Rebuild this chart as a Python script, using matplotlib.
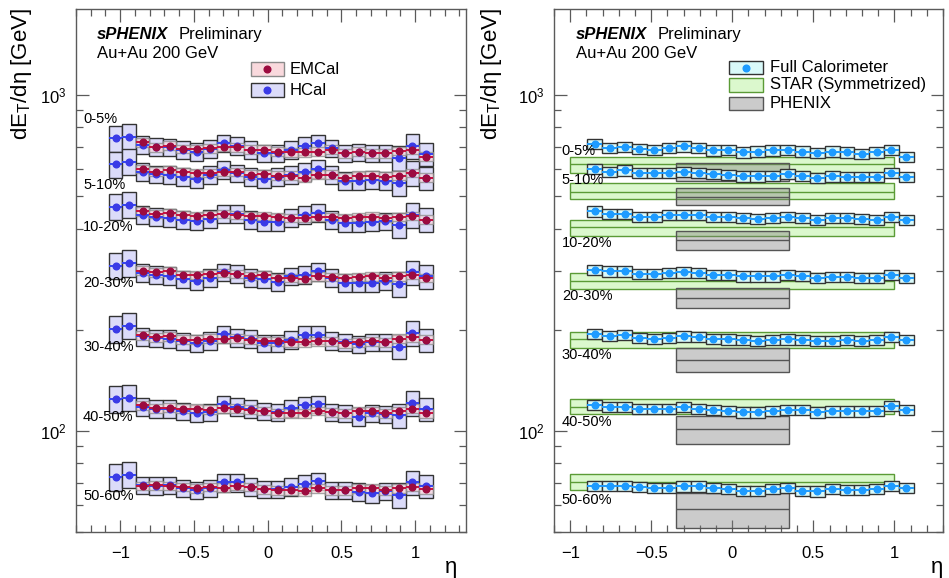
import numpy as np
import matplotlib
matplotlib.use("Agg")
import matplotlib.pyplot as plt
from matplotlib import ticker
from matplotlib.patches import Rectangle

plt.rcParams['font.family'] = ['Liberation Sans', 'DejaVu Sans']
plt.rcParams['mathtext.fontset'] = 'custom'
plt.rcParams['mathtext.rm'] = 'Liberation Sans'
plt.rcParams['mathtext.it'] = 'Liberation Sans:italic'
plt.rcParams['mathtext.bf'] = 'Liberation Sans:bold'

# ---------------- data ----------------
centralities = ['0-5%', '5-10%', '10-20%', '20-30%', '30-40%', '40-50%', '50-60%']

eta_hcal = [-1.031, -0.940, -0.848, -0.757, -0.665, -0.574, -0.482, -0.391,
            -0.299, -0.208, -0.116, -0.025, 0.067, 0.158, 0.250, 0.342,
            0.433, 0.525, 0.616, 0.708, 0.799, 0.891, 0.982, 1.074]
eta_emcal = [-0.848, -0.757, -0.665, -0.574, -0.482, -0.391, -0.299, -0.208,
             -0.116, -0.025, 0.067, 0.158, 0.250, 0.342, 0.433, 0.525,
             0.616, 0.708, 0.799, 0.891, 0.982, 1.074]
bin_width = 0.0915

hcal_0_5 = [743, 751, 710, 701, 697, 686, 678, 690, 718, 706, 686, 670,
            670, 686, 706, 718, 694, 670, 675, 670, 670, 648, 706, 667]
hcal_5_10 = [622, 633, 591, 581, 578, 571, 562, 578, 598, 585, 571, 562,
             571, 578, 591, 602, 578, 555, 555, 558, 555, 546, 585, 565]
hcal_10_20 = [465, 471, 439, 434, 430, 425, 420, 427, 442, 442, 425, 417,
              417, 430, 439, 446, 425, 415, 415, 417, 420, 410, 439, 425]
hcal_20_30 = [310, 316, 295, 291, 289, 283, 280, 285, 296, 293, 285, 283,
              278, 288, 291, 298, 285, 276, 276, 276, 280, 274, 296, 288]
hcal_30_40 = [201.2, 205.8, 190.9, 188.7, 187.9, 184.5, 182.4, 185.3, 194.0, 189.6, 187.9, 182.4,
              182.4, 186.6, 193.1, 193.1, 185.3, 183.7, 181.2, 183.7, 183.7, 178.2, 195.3, 186.6]
hcal_40_50 = [124.5, 125.6, 118.1, 116.3, 116.3, 114.2, 112.9, 113.7, 120.1, 118.1, 116.3, 114.2,
              113.7, 116.8, 119.0, 120.1, 113.7, 112.9, 110.3, 112.9, 112.1, 111.1, 120.9, 116.3]
hcal_50_60 = [73.0, 74.1, 68.9, 68.6, 68.9, 67.4, 66.6, 67.4, 70.2, 70.2, 68.1, 67.1,
              67.1, 68.1, 69.7, 70.8, 66.6, 66.6, 65.8, 65.1, 66.1, 64.6, 70.2, 68.6]
hcal_sys_rel = [0.09, 0.09, 0.06, 0.06, 0.06, 0.06, 0.06, 0.06, 0.06, 0.06, 0.06, 0.06,
                0.06, 0.06, 0.06, 0.06, 0.06, 0.06, 0.06, 0.06, 0.06, 0.085, 0.085, 0.08]

emcal_0_5 = [723, 697, 706, 690, 690, 694, 701, 697, 686, 686, 678,
             675, 675, 678, 686, 670, 678, 670, 670, 681, 686, 655]
emcal_5_10 = [602, 591, 598, 589, 585, 585, 589, 589, 578, 581, 575,
              575, 567, 578, 578, 567, 575, 575, 571, 575, 585, 567]
emcal_10_20 = [450, 442, 444, 439, 436, 439, 442, 439, 436, 436, 433,
               430, 430, 434, 433, 430, 433, 434, 430, 433, 436, 425]
emcal_20_30 = [300, 296, 298, 291, 291, 293, 295, 293, 289, 291, 285,
               285, 283, 288, 287, 285, 287, 288, 285, 288, 291, 285]
emcal_30_40 = [192.2, 189.6, 190.9, 186.6, 186.6, 187.9, 187.9, 188.7, 186.6, 185.3, 184.5,
               183.7, 183.7, 184.5, 184.5, 182.4, 183.7, 184.5, 183.7, 187.9, 189.6, 186.6]
emcal_40_50 = [119.0, 116.8, 117.3, 116.3, 116.3, 115.5, 116.8, 116.3, 115.5, 114.7, 112.9,
               112.9, 112.9, 114.7, 113.7, 112.9, 114.2, 114.2, 112.9, 114.7, 116.3, 112.9]
emcal_50_60 = [68.6, 68.9, 68.6, 68.1, 67.4, 68.1, 67.7, 68.6, 68.1, 67.1, 66.6,
               66.6, 66.1, 67.4, 66.6, 66.6, 67.4, 67.4, 66.6, 67.4, 68.1, 67.1]
emcal_sys_rel = [0.03, 0.03, 0.03, 0.03, 0.03, 0.03, 0.03, 0.03, 0.03, 0.03, 0.03,
                 0.03, 0.03, 0.03, 0.03, 0.03, 0.03, 0.03, 0.03, 0.03, 0.03, 0.03]

full_0_5 = [715, 694, 699, 689, 686, 694, 702, 694, 683, 686, 674,
            678, 683, 686, 678, 671, 678, 674, 668, 674, 686, 655]
full_5_10 = [601, 591, 596, 585, 585, 587, 591, 587, 582, 578, 572,
             572, 574, 582, 574, 565, 572, 569, 569, 569, 587, 569]
full_10_20 = [450, 442, 442, 434, 434, 439, 439, 439, 433, 433, 430,
              427, 430, 434, 430, 425, 430, 430, 428, 425, 433, 425]
full_20_30 = [301, 298, 298, 293, 293, 295, 296, 295, 291, 291, 288,
              288, 288, 291, 289, 285, 287, 287, 285, 285, 291, 285]
full_30_40 = [194, 192, 193, 189, 188, 189, 191, 190, 188, 187, 186,
              185, 186, 187, 186, 185, 185, 186, 185, 186, 190, 186]
full_40_50 = [119.5, 117.6, 118.1, 116.0, 116.0, 116.0, 117.6, 116.5, 115.5, 114.9, 113.4,
              113.4, 114.9, 115.5, 115.5, 113.4, 114.2, 114.2, 114.2, 114.9, 118.7, 115.5]
full_50_60 = [68.6, 68.6, 68.6, 68.0, 67.5, 67.5, 68.3, 68.3, 67.5, 67.1, 66.4,
              66.4, 67.1, 67.5, 66.4, 66.0, 67.1, 66.8, 66.8, 67.1, 68.6, 67.5]
full_sys_rel = [0.035, 0.035, 0.035, 0.035, 0.035, 0.035, 0.035, 0.035, 0.035, 0.035, 0.035,
                0.035, 0.035, 0.035, 0.035, 0.035, 0.035, 0.035, 0.035, 0.035, 0.035, 0.035]

star_val = [622, 515, 403, 280, 187, 118, 70.4]
star_lo = [587, 489, 381, 265, 177, 112, 66.8]
star_hi = [655, 546, 425, 295, 197, 124, 74.3]
star_eta_min, star_eta_max = -1.0, 1.0

phenix_val = [590, 498, 369, 248, 163, 101, 58.6]
phenix_lo = [555, 471, 346, 232, 150, 91.3, 51.3]
phenix_hi = [626, 528, 392, 266, 176, 111, 65.3]
phenix_eta_min, phenix_eta_max = -0.35, 0.35

hcal_vals = [hcal_0_5, hcal_5_10, hcal_10_20, hcal_20_30, hcal_30_40, hcal_40_50, hcal_50_60]
emcal_vals = [emcal_0_5, emcal_5_10, emcal_10_20, emcal_20_30, emcal_30_40, emcal_40_50, emcal_50_60]
full_vals = [full_0_5, full_5_10, full_10_20, full_20_30, full_30_40, full_40_50, full_50_60]

# label anchor heights (value at which text is centred)
label_y_left = [848, 540, 405, 276, 178, 110, 64]
label_y_right = [681, 558, 363, 252, 168, 106.6, 62.3]

# ---------------- style ----------------
EM_FILL, EM_EDGE, EM_MK, EM_LN = '#f9d9dd', '#8a8a8a', '#9c0b3f', '#c8103f'
HC_FILL, HC_EDGE, HC_MK, HC_LN = '#dcdcf9', '#333333', '#3a3ae6', '#3344f0'
FC_FILL, FC_EDGE, FC_MK = '#d9f9f9', '#333333', '#1e9bff'
ST_FILL, ST_EDGE = '#dbf8cd', '#5b9b36'
PH_FILL, PH_EDGE = '#7f7f7f', '#555555'
FRAME = '#5a5a5a'

W, H = 949, 578
fig = plt.figure(figsize=(W / 100, H / 100), dpi=100)
ax1 = fig.add_axes([76 / W, 1 - 532 / H, 390 / W, 523 / H])
ax2 = fig.add_axes([554 / W, 1 - 532 / H, 389 / W, 523 / H])


def boxes(ax, x, v, rel, fill, edge, z, alpha=1.0):
    x = np.asarray(x); v = np.asarray(v, float); rel = np.asarray(rel)
    lo = v * (1 - rel); hi = v * (1 + rel)
    ax.bar(x, hi - lo, bottom=lo, width=bin_width, facecolor=fill, edgecolor=edge,
           linewidth=1.0, zorder=z, alpha=alpha)


def points(ax, x, v, mk, ln, z):
    ax.errorbar(x, v, xerr=bin_width / 2, fmt='o', ms=4.8, color=mk, mec=mk, mfc=mk,
                ecolor=ln, elinewidth=1.4, capsize=0, zorder=z)


# left panel
for i, c in enumerate(centralities):
    boxes(ax1, eta_hcal, hcal_vals[i], hcal_sys_rel, HC_FILL, HC_EDGE, 1)
    boxes(ax1, eta_emcal, emcal_vals[i], emcal_sys_rel, EM_FILL, EM_EDGE, 2, alpha=0.75)
for i, c in enumerate(centralities):
    points(ax1, eta_hcal, hcal_vals[i], HC_MK, HC_LN, 3)
    points(ax1, eta_emcal, emcal_vals[i], EM_MK, EM_LN, 4)
    ax1.text(0.018, label_y_left[i], c, transform=ax1.get_yaxis_transform(),
             fontsize=10.5, va='center', ha='left', zorder=6)

# right panel
for i, c in enumerate(centralities):
    ax2.bar((star_eta_min + star_eta_max) / 2, star_hi[i] - star_lo[i], bottom=star_lo[i],
            width=star_eta_max - star_eta_min, facecolor=ST_FILL, edgecolor=ST_EDGE,
            linewidth=1.0, zorder=1)
    ax2.hlines(star_val[i], star_eta_min, star_eta_max, color=ST_EDGE, lw=1.0, zorder=1.1)
for i, c in enumerate(centralities):
    ax2.bar((phenix_eta_min + phenix_eta_max) / 2, phenix_hi[i] - phenix_lo[i], bottom=phenix_lo[i],
            width=phenix_eta_max - phenix_eta_min, facecolor=PH_FILL, alpha=0.4,
            edgecolor='none', zorder=2)
    ax2.bar((phenix_eta_min + phenix_eta_max) / 2, phenix_hi[i] - phenix_lo[i], bottom=phenix_lo[i],
            width=phenix_eta_max - phenix_eta_min, facecolor='none',
            edgecolor=PH_EDGE, linewidth=1.0, zorder=2.1)
    ax2.hlines(phenix_val[i], phenix_eta_min, phenix_eta_max, color=PH_EDGE, lw=1.0, zorder=2.2)
for i, c in enumerate(centralities):
    boxes(ax2, eta_emcal, full_vals[i], full_sys_rel, FC_FILL, FC_EDGE, 3)
    points(ax2, eta_emcal, full_vals[i], FC_MK, FC_MK, 4)
    ax2.text(0.02, label_y_right[i], c, transform=ax2.get_yaxis_transform(),
             fontsize=10.5, va='center', ha='left', zorder=6)

# axes styling
for ax, xl in ((ax1, (-1.3, 1.345)), (ax2, (-1.1, 1.3))):
    ax.set_yscale('log')
    ax.set_ylim(50, 1800)
    ax.set_xlim(*xl)
    ax.xaxis.set_major_locator(ticker.MultipleLocator(0.5))
    ax.xaxis.set_minor_locator(ticker.MultipleLocator(0.1))
    ax.xaxis.set_major_formatter(ticker.FuncFormatter(lambda v, p: f"{v:g}".replace('-', '\u2212')))
    ax.yaxis.set_major_locator(ticker.LogLocator(base=10))
    ax.yaxis.set_minor_locator(ticker.LogLocator(base=10, subs=np.arange(2, 10)))
    ax.yaxis.set_minor_formatter(ticker.NullFormatter())
    ax.tick_params(which='both', direction='in', top=True, right=True, color=FRAME, width=0.9)
    ax.tick_params(which='major', length=9)
    ax.tick_params(which='minor', length=5)
    ax.tick_params(axis='x', which='major', labelsize=12, pad=10)
    ax.tick_params(axis='y', which='major', labelsize=12, pad=7)
    for s in ax.spines.values():
        s.set_color(FRAME)
        s.set_linewidth(1.0)

# header texts
for ax, xs, xp in ((ax1, 0.054, 0.264), (ax2, 0.057, 0.267)):
    ax.text(xs, 0.952, 'sPHENIX', transform=ax.transAxes, fontsize=12,
            fontweight='bold', fontstyle='italic', va='center', ha='left')
    ax.text(xp, 0.952, 'Preliminary', transform=ax.transAxes, fontsize=12, va='center', ha='left')
    ax.text(xs, 0.914, 'Au+Au 200 GeV', transform=ax.transAxes, fontsize=12, va='center', ha='left')


def legend_entry(ax, x0, x1, yc, h, fill, edge, text, tx, mk=None, alpha=1.0):
    ax.add_patch(Rectangle((x0, yc - h / 2), x1 - x0, h, transform=ax.transAxes,
                           facecolor=fill, edgecolor='none', alpha=alpha, zorder=7))
    ax.add_patch(Rectangle((x0, yc - h / 2), x1 - x0, h, transform=ax.transAxes,
                           facecolor='none', edgecolor=edge, lw=1.0, zorder=7.1))
    if mk is not None:
        ax.plot([(x0 + x1) / 2], [yc], 'o', ms=4.8, color=mk, transform=ax.transAxes, zorder=8)
    ax.text(tx, yc, text, transform=ax.transAxes, fontsize=12, va='center', ha='left', zorder=8)


legend_entry(ax1, 0.448, 0.533, 0.885, 0.028, EM_FILL, EM_EDGE, 'EMCal', 0.549, EM_MK)
legend_entry(ax1, 0.448, 0.533, 0.845, 0.028, HC_FILL, HC_EDGE, 'HCal', 0.549, HC_MK)
legend_entry(ax2, 0.451, 0.538, 0.888, 0.026, FC_FILL, FC_EDGE, 'Full Calorimeter', 0.555, FC_MK)
legend_entry(ax2, 0.451, 0.538, 0.855, 0.026, ST_FILL, ST_EDGE, 'STAR (Symmetrized)', 0.555)
legend_entry(ax2, 0.451, 0.538, 0.819, 0.026, PH_FILL, PH_EDGE, 'PHENIX', 0.555, alpha=0.4)

# axis titles
for xc in (21, 492):
    fig.text(xc / W, 1 - 8 / H, r'dE$_{\rm T}$/dη [GeV]',
             rotation=90, fontsize=16, ha='center', va='top')
for xr in (457, 943):
    fig.text(xr / W, 1 - 568 / H, 'η', fontsize=16, ha='right', va='center')

fig.savefig('out.png', dpi=100)
